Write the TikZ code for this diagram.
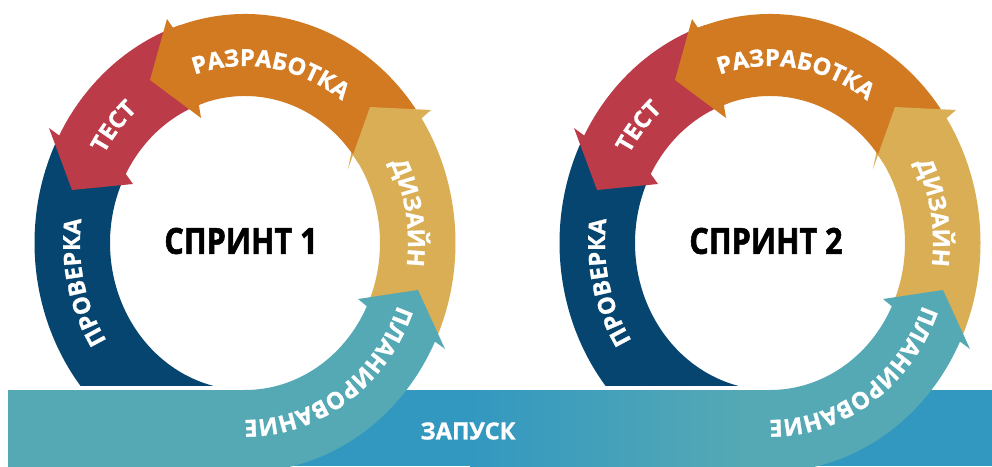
\documentclass[tikz,border=0pt]{standalone}
\usepackage{fontspec}
\setmainfont{Open Sans}
\newfontfamily\heavyfont[BoldFeatures={FakeBold=1.2}]{Open Sans}
\newfontfamily\titlefont[BoldFeatures={FakeBold=1.5,FakeStretch=0.85}]{Open Sans}
\usetikzlibrary{decorations.text}
\definecolor{cblue}{HTML}{05456F}
\definecolor{cred}{HTML}{BB3B48}
\definecolor{corange}{HTML}{D17A22}
\definecolor{cyellow}{HTML}{D9AE55}
\definecolor{cteal}{HTML}{55A9B4}
\definecolor{cband}{HTML}{3398C0}
\newcommand{\ringfont}{\heavyfont\fontsize{23.5}{23.5}\selectfont\bfseries}
\tikzset{
  ringtext/.style={decorate,decoration={text along path,text color=white,
    text={|\ringfont|#1},text align=center}},
  title/.style={font=\titlefont\fontsize{36}{36}\selectfont\bfseries,text=black,inner sep=0pt},
  bandlabel/.style={font=\heavyfont\fontsize{23.5}{23.5}\selectfont\bfseries,text=white,inner sep=0pt}
}
% #1 x offset, #2 sprint label, #3 left end of the teal tail
\newcommand{\sprintring}[3]{%
\begin{scope}[shift={(245+#1,223)}]
  \fill[cblue] (218.6:210.5pt and 229pt) arc[start angle=218.6,end angle=152,x radius=210.5pt,y radius=229pt]
     -- (152:135pt and 147pt) arc[start angle=152,end angle=256.6,x radius=135pt,y radius=147pt] -- cycle;
  \fill[cred] (152:135pt and 147pt) -- (-112,59) -- (-173,53) -- (-196,115) -- (152:210.5pt and 229pt)
     arc[start angle=152,end angle=108,x radius=210.5pt,y radius=229pt]
     -- (108:135pt and 147pt) arc[start angle=108,end angle=152,x radius=135pt,y radius=147pt] -- cycle;
  \fill[corange] (110:135pt and 147pt) -- (-44,125) -- (-95,163) -- (-78,224) -- (110:210.5pt and 229pt)
     arc[start angle=110,end angle=33,x radius=210.5pt,y radius=229pt]
     -- (33:135pt and 147pt) arc[start angle=33,end angle=110,x radius=135pt,y radius=147pt] -- cycle;
  \fill[cyellow] (38:135pt and 147pt) -- (103,74) -- (125,136) -- (186,133) -- (33:210.5pt and 229pt)
     arc[start angle=33,end angle=-25.5,x radius=210.5pt,y radius=229pt]
     -- (-25.5:135pt and 147pt) arc[start angle=-25.5,end angle=38,x radius=135pt,y radius=147pt] -- cycle;
  \fill[cteal] (-25.5:135pt and 147pt) -- (113,-56) -- (173,-47) -- (200,-106) -- (-25.5:210.5pt and 229pt)
     arc[start angle=-25.5,end angle=-78,x radius=210.5pt,y radius=229pt]
     -- (#3,-243) -- (#3,-147) -- (-90:135pt and 147pt)
     arc[start angle=-90,end angle=-25.5,x radius=135pt,y radius=147pt] -- cycle;
  \path[ringtext={ПРОВЕРКА}] (233:165pt and 179pt) arc[start angle=233,end angle=153,x radius=165pt,y radius=179pt];
  \path[ringtext={ТЕСТ}] (170:163pt and 177pt) arc[start angle=170,end angle=110,x radius=163pt,y radius=177pt];
  \path[ringtext={РАЗРАБОТКА}] (131:163pt and 177pt) arc[start angle=131,end angle=31,x radius=163pt,y radius=177pt];
  \path[ringtext={ДИЗАЙН}] (50:163pt and 177pt) arc[start angle=50,end angle=-30,x radius=163pt,y radius=177pt];
  \path[ringtext={ПЛАНИРОВАНИЕ}] (-6:163pt and 177pt) arc[start angle=-6,end angle=-106,x radius=163pt,y radius=177pt];
  \node[title] (title#1) at (-4,2) {#2};
\end{scope}}
\begin{document}
\begin{tikzpicture}[x=1pt,y=1pt]
  \useasboundingbox (0,0) rectangle (992,466);
  \clip (0,0) rectangle (992,466);
  \fill[cband] (8,0) rectangle (992,76);
  \fill[left color=cband,right color=cteal] (470,0) rectangle (746,76);
  \sprintring{0}{СПРИНТ 1}{-237}
  \sprintring{525}{СПРИНТ 2}{-30}
  \node[bandlabel] (launch) at (468,35) {ЗАПУСК};
\end{tikzpicture}
\end{document}
